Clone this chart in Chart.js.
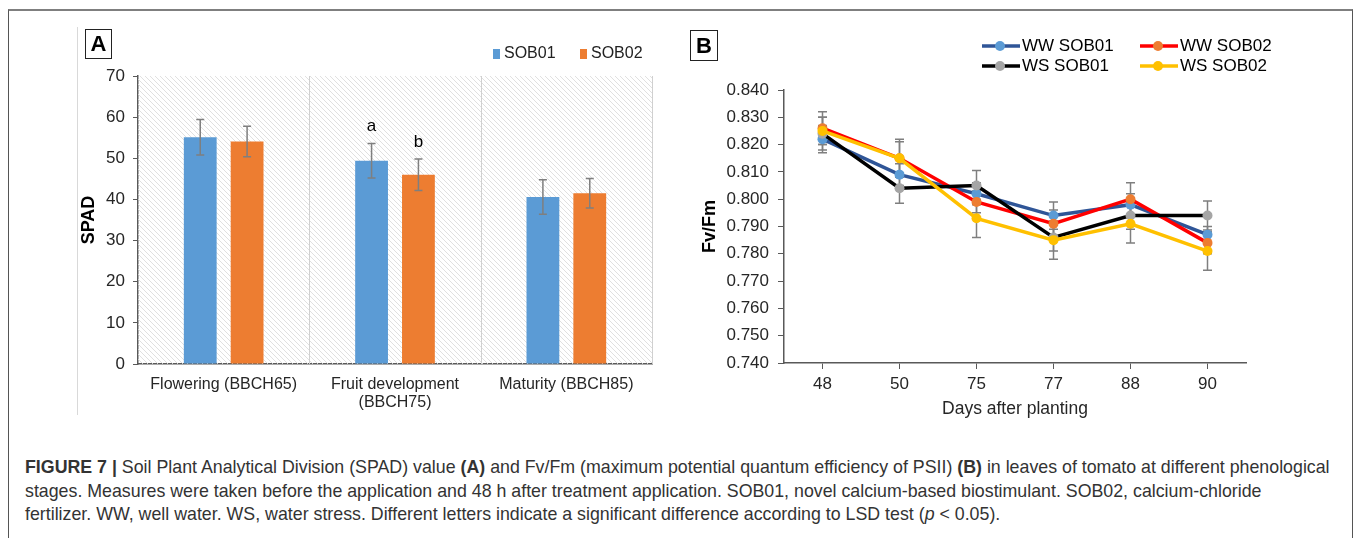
<!DOCTYPE html>
<html>
<head>
<meta charset="utf-8">
<script src="https://cdn.jsdelivr.net/npm/chart.js@4.4.1/dist/chart.umd.min.js"></script>
<style>
body { margin: 0; background: #fff; width: 1357px; height: 538px; overflow: hidden; position: relative; font-family: "Liberation Sans", Arial, sans-serif; }
.frame { position: absolute; left: 8px; top: 9px; width: 1343px; height: 600px; border-top: 2px solid #7f7f7f; border-left: 1px solid #555; border-right: 1px solid #555; }
.vline { position: absolute; left: 77px; top: 27px; width: 1px; height: 388px; background: #d9d9d9; }
.tag { position: absolute; border: 1px solid #222; font: bold 22px "Liberation Sans", Arial, sans-serif; color: #000; display: flex; align-items: center; justify-content: center; }
#cA { position: absolute; left: 78px; top: 20px; }
#cB { position: absolute; left: 690px; top: 20px; }
.cap { position: absolute; left: 25px; top: 456px; font-size: 17.8px; line-height: 23.5px; color: #333; white-space: nowrap; }
</style>
</head>
<body>
<div class="frame"></div>
<div class="vline"></div>
<canvas id="cA" width="590" height="400"></canvas>
<canvas id="cB" width="620" height="400"></canvas>
<div class="tag" style="left:85px;top:29px;width:25px;height:28px;">A</div>
<div class="tag" style="left:690px;top:30px;width:26px;height:29px;">B</div>
<div class="cap">
<b>FIGURE 7 |</b> Soil Plant Analytical Division (SPAD) value <b>(A)</b> and Fv/Fm (maximum potential quantum efficiency of PSII) <b>(B)</b> in leaves of tomato at different phenological<br>
stages. Measures were taken before the application and 48 h after treatment application. SOB01, novel calcium-based biostimulant. SOB02, calcium-chloride<br>
fertilizer. WW, well water. WS, water stress. Different letters indicate a significant difference according to LSD test (<i>p</i> &lt; 0.05).
</div>
<script>
// panel A: SPAD
var stages = ['Flowering (BBCH65)', ['Fruit development', '(BBCH75)'], 'Maturity (BBCH85)'];
var sob01 = [55.1, 49.4, 40.6];
var sob02 = [54.1, 46.0, 41.5];
var sob01Err = [4.3, 4.2, 4.2];
var sob02Err = [3.7, 3.8, 3.6];
var sob01Letters = ['', 'a', ''];
var sob02Letters = ['', 'b', ''];

// panel B: Fv/Fm
var days = ['48', '50', '75', '77', '88', '90'];
var wwSob01 = [0.822, 0.809, 0.802, 0.794, 0.798, 0.787];
var wwSob02 = [0.826, 0.815, 0.799, 0.791, 0.800, 0.784];
var wsSob01 = [0.824, 0.804, 0.805, 0.786, 0.794, 0.794];
var wsSob02 = [0.825, 0.815, 0.793, 0.785, 0.791, 0.781];
var wwSob01Err = [0.005, 0.004, 0.004, 0.005, 0.004, 0.003];
var wwSob02Err = [0.006, 0.006, 0.004, 0.005, 0.006, 0.004];
var wsSob01Err = [0.006, 0.0055, 0.0055, 0.005, 0.005, 0.0053];
var wsSob02Err = [0.005, 0.007, 0.007, 0.007, 0.007, 0.007];

Chart.defaults.font.family = '"Liberation Sans", Arial, sans-serif';
Chart.defaults.color = '#404040';

function drawErrors(chart, capHalf) {
    var ctx = chart.ctx, y = chart.scales.y;
    ctx.save();
    ctx.strokeStyle = '#7f7f7f';
    ctx.lineWidth = 1.5;
    chart.data.datasets.forEach(function (ds, i) {
        chart.getDatasetMeta(i).data.forEach(function (el, j) {
            var top = y.getPixelForValue(ds.data[j] + ds.errors[j]);
            var bot = y.getPixelForValue(ds.data[j] - ds.errors[j]);
            ctx.beginPath();
            ctx.moveTo(el.x, top); ctx.lineTo(el.x, bot);
            ctx.moveTo(el.x - capHalf, top); ctx.lineTo(el.x + capHalf, top);
            ctx.moveTo(el.x - capHalf, bot); ctx.lineTo(el.x + capHalf, bot);
            ctx.stroke();
        });
    });
    ctx.restore();
}

//hatched background + error bars + letters for A
var pluginA = {
    id: 'extrasA',
    beforeDatasetsDraw: function (chart) {
        var a = chart.chartArea, ctx = chart.ctx;
        ctx.save();
        ctx.beginPath();
        ctx.rect(a.left, a.top, a.right - a.left, a.bottom - a.top);
        ctx.clip();
        ctx.strokeStyle = '#dcdcdc';
        ctx.lineWidth = 0.9;
        var h = a.bottom - a.top;
        for (var x = a.left - h; x < a.right; x += 5) {
            ctx.beginPath();
            ctx.moveTo(x, a.top);
            ctx.lineTo(x + h, a.bottom);
            ctx.stroke();
        }
        ctx.restore();
        // category dividers on top of hatch
        var xs = chart.scales.x;
        ctx.save();
        ctx.strokeStyle = '#d0d0d0';
        ctx.lineWidth = 1;
        for (var i = 1; i <= stages.length; i++) {
            var px = Math.round(xs.getPixelForValue(i - 0.5)) + 0.5;
            ctx.beginPath(); ctx.moveTo(px, a.top); ctx.lineTo(px, a.bottom); ctx.stroke();
        }
        ctx.restore();
    },
    afterDatasetsDraw: function (chart) {
        drawErrors(chart, 4);
        var ctx = chart.ctx, y = chart.scales.y;
        ctx.save();
        ctx.fillStyle = '#000';
        ctx.font = '17px "Liberation Sans", Arial, sans-serif';
        ctx.textAlign = 'center';
        ctx.textBaseline = 'middle';
        chart.data.datasets.forEach(function (ds, i) {
            chart.getDatasetMeta(i).data.forEach(function (el, j) {
                if (!ds.letters[j]) return;
                ctx.fillText(ds.letters[j], el.x, y.getPixelForValue(ds.data[j] + ds.errors[j]) - 17);
            });
        });
        ctx.restore();
    },
    afterDraw: function (chart) {
        var ctx = chart.ctx, o = chart.options.plugins.extrasA;
        ctx.save();
        ctx.font = '16px "Liberation Sans", Arial, sans-serif';
        ctx.textBaseline = 'middle';
        chart.data.datasets.forEach(function (ds, i) {
            var x = o.legendX[i];
            ctx.fillStyle = ds.backgroundColor;
            ctx.fillRect(x, o.legendY - 5, 7, 10);
            ctx.fillStyle = '#222';
            ctx.fillText(ds.label, x + 11, o.legendY);
        });
        ctx.restore();
    }
};

new Chart(document.getElementById('cA'), {
    type: 'bar',
    data: {
        labels: stages,
        datasets: [
            { label: 'SOB01', data: sob01, errors: sob01Err, letters: sob01Letters, backgroundColor: '#5b9bd5' },
            { label: 'SOB02', data: sob02, errors: sob02Err, letters: sob02Letters, backgroundColor: '#ed7d31' }
        ]
    },
    options: {
        responsive: false,
        animation: false,
        devicePixelRatio: 1,
        categoryPercentage: 0.547,
        barPercentage: 0.70,
        layout: { padding: { top: 56, right: 16, left: 0, bottom: 0 } },
        plugins: {
            legend: { display: false },
            tooltip: { enabled: false },
            extrasA: { legendX: [415, 502], legendY: 34 }
        },
        scales: {
            x: {
                grid: { display: false },
                border: { color: '#595959', width: 1.5 },
                ticks: { font: { size: 16, lineHeight: 1.15 }, color: '#262626', padding: 3, maxRotation: 0 },
                afterFit: function (s) { s.height = 56; }
            },
            y: {
                min: 0, max: 70,
                ticks: { stepSize: 10, font: { size: 17 }, color: '#262626', padding: 8 },
                grid: { drawOnChartArea: false, tickLength: 5, color: '#595959' },
                border: { color: '#595959', width: 1.5 },
                title: { display: true, text: 'SPAD', font: { size: 18, weight: 'bold' }, color: '#000', padding: { top: 0, bottom: 0 } },
                afterFit: function (s) { s.width = 60; }
            }
        }
    },
    plugins: [pluginA]
});

//error bars under lines + custom legend for B
var pluginB = {
    id: 'extrasB',
    beforeDatasetsDraw: function (chart) {
        drawErrors(chart, 4.5);
    },
    afterDraw: function (chart) {
        var ctx = chart.ctx, o = chart.options.plugins.extrasB;
        ctx.save();
        ctx.font = '17px "Liberation Sans", Arial, sans-serif';
        ctx.textBaseline = 'middle';
        chart.data.datasets.forEach(function (ds, i) {
            var x = o.legendX[i % 2], y = o.legendY[Math.floor(i / 2)];
            ctx.strokeStyle = ds.borderColor;
            ctx.lineWidth = 3.5;
            ctx.beginPath(); ctx.moveTo(x, y); ctx.lineTo(x + 38, y); ctx.stroke();
            ctx.fillStyle = ds.pointBackgroundColor;
            ctx.beginPath(); ctx.arc(x + 18, y, 5, 0, Math.PI * 2); ctx.fill();
            ctx.fillStyle = '#000';
            ctx.fillText(ds.label, x + 40, y);
        });
        ctx.restore();
    }
};

function lineSet(label, data, errs, line, mark, order) {
    return {
        label: label, data: data, errors: errs, order: order,
        borderColor: line, borderWidth: 3.5,
        pointBackgroundColor: mark, pointBorderColor: mark,
        pointRadius: 5, pointBorderWidth: 0, tension: 0
    };
}

new Chart(document.getElementById('cB'), {
    type: 'line',
    data: {
        labels: days,
        datasets: [
            lineSet('WW SOB01', wwSob01, wwSob01Err, '#2f5597', '#5b9bd5', 4),
            lineSet('WW SOB02', wwSob02, wwSob02Err, '#ff0000', '#ed7d31', 3),
            lineSet('WS SOB01', wsSob01, wsSob01Err, '#000000', '#a5a5a5', 2),
            lineSet('WS SOB02', wsSob02, wsSob02Err, '#ffc000', '#ffc000', 1)
        ]
    },
    options: {
        responsive: false,
        animation: false,
        devicePixelRatio: 1,
        layout: { padding: { top: 70, right: 64, left: 0, bottom: 0 } },
        plugins: {
            legend: { display: false },
            tooltip: { enabled: false },
            extrasB: { legendX: [292, 450], legendY: [26, 46] }
        },
        scales: {
            x: {
                offset: true,
                grid: { offset: false, drawOnChartArea: false, tickLength: 6, color: '#595959' },
                border: { color: '#595959', width: 1.5 },
                ticks: { font: { size: 17 }, color: '#262626', padding: 5 },
                title: { display: true, text: 'Days after planting', font: { size: 17.5 }, color: '#262626', padding: { top: 0, bottom: 0 } },
                afterFit: function (s) { s.height = 57; }
            },
            y: {
                min: 0.74, max: 0.84,
                ticks: { stepSize: 0.01, font: { size: 17 }, color: '#262626', padding: 9,
                    callback: function (v) { return Number(v).toFixed(3); } },
                grid: { drawOnChartArea: false, tickLength: 6, color: '#595959' },
                border: { color: '#595959', width: 1.5 },
                title: { display: true, text: 'Fv/Fm', font: { size: 18, weight: 'bold' }, color: '#000', padding: { top: 9, bottom: 0 } },
                afterFit: function (s) { s.width = 94; }
            }
        }
    },
    plugins: [pluginB]
});
</script>
</body>
</html>
